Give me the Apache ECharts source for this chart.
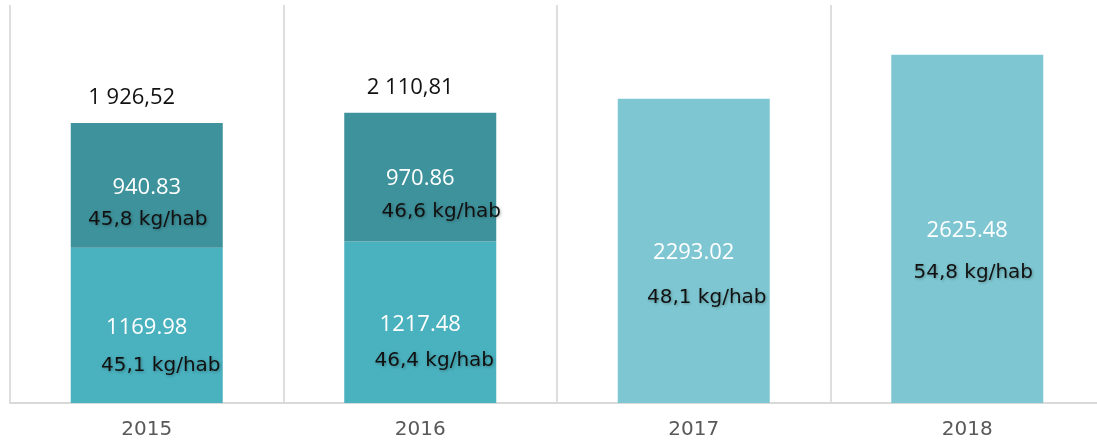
<!DOCTYPE html>
<html>
<head>
<meta charset="utf-8">
<script src="https://cdn.jsdelivr.net/npm/echarts@6/dist/echarts.min.js"></script>
<style>
  html, body { margin: 0; padding: 0; background: #fff; }
  #chart { width: 1097px; height: 448px; }
</style>
</head>
<body>
<div id="chart"></div>
<script>
const years = ['2015', '2016', '2017', '2018']
const lowerValues = [1169.98, 1217.48, 2293.02, 2625.48]
const upperValues = [940.83, 970.86, null, null]
const lowerPerCapita = ['45,1 kg/hab', '46,4 kg/hab', '48,1 kg/hab', '54,8 kg/hab']
const upperPerCapita = ['45,8 kg/hab', '46,6 kg/hab', '', '']
const totalLabels = ['1 926,52', '2 110,81', '', '']

// label nudges (px), kept apart from the data
const lowerKgShift = [[14, 40], [14, 39], [13, 47], [6, 44]]
const upperKgShift = [[1, 34], [21, 35]]
const totalShift = [[-15, 0], [-10, 0]]

const FONT = 'Open Sans'
const DARK = '#3e929c'
const MID = '#4ab1be'
const LIGHT = '#7ec7d2'

const valueLabel = {
  show: true,
  position: 'inside',
  offset: [0, 2],
  color: '#fff',
  fontFamily: FONT,
  fontSize: 22,
  formatter: p => p.value == null ? '' : Number(p.value).toFixed(2)
}

const kgStyle = {
  color: '#111',
  fontFamily: 'DejaVu Sans',
  fontSize: 20,
  textShadowColor: 'rgba(0,0,0,0.3)',
  textShadowBlur: 3,
  textShadowOffsetX: 1,
  textShadowOffsetY: 1
}

const chart = echarts.init(document.getElementById('chart'))

chart.setOption({
  animation: false,
  grid: { left: 10, right: -7, top: 5, bottom: 45, outerBoundsMode: 'none', containLabel: false },
  xAxis: {
    type: 'category',
    data: years,
    axisTick: { show: false },
    axisLine: { lineStyle: { color: '#d9d9d9', width: 2 } },
    splitLine: { show: true, interval: 0, lineStyle: { color: '#dedede', width: 2 } },
    axisLabel: { color: '#595959', fontFamily: 'DejaVu Sans', fontSize: 20, margin: 17 }
  },
  yAxis: { type: 'value', min: 0, max: 3000, show: false, splitLine: { show: false } },
  series: [
    {
      name: 'lower',
      type: 'bar',
      stack: 'a',
      barWidth: 152,
      barGap: '-100%',
      data: lowerValues.map((v, i) => ({
        value: v,
        itemStyle: { color: upperValues[i] == null ? LIGHT : MID }
      })),
      label: valueLabel
    },
    {
      name: 'upper',
      type: 'bar',
      stack: 'a',
      barWidth: 152,
      barGap: '-100%',
      itemStyle: { color: DARK },
      data: upperValues,
      label: valueLabel
    },
    {
      name: 'lowerKg',
      type: 'bar',
      stack: 'k',
      barWidth: 152,
      barGap: '-100%',
      silent: true,
      itemStyle: { color: 'transparent' },
      data: lowerValues.map((v, i) => ({
        value: v,
        label: { offset: lowerKgShift[i] }
      })),
      label: Object.assign({ show: true, position: 'inside', formatter: p => lowerPerCapita[p.dataIndex] }, kgStyle)
    },
    {
      name: 'upperKg',
      type: 'bar',
      stack: 'k',
      barWidth: 152,
      barGap: '-100%',
      silent: true,
      itemStyle: { color: 'transparent' },
      data: upperValues.map((v, i) => ({
        value: v,
        label: { offset: upperKgShift[i] || [0, 0] }
      })),
      label: Object.assign({ show: true, position: 'inside', formatter: p => upperPerCapita[p.dataIndex] }, kgStyle)
    },
    {
      name: 'total',
      type: 'bar',
      stack: 'k',
      barWidth: 152,
      barGap: '-100%',
      silent: true,
      itemStyle: { color: 'transparent' },
      data: totalLabels.map((t, i) => t ? { value: 0, label: { offset: totalShift[i] } } : null),
      label: {
        show: true,
        position: 'top',
        distance: 14,
        color: '#111',
        fontFamily: FONT,
        fontSize: 22,
        formatter: p => totalLabels[p.dataIndex]
      }
    }
  ]
})
</script>
</body>
</html>
